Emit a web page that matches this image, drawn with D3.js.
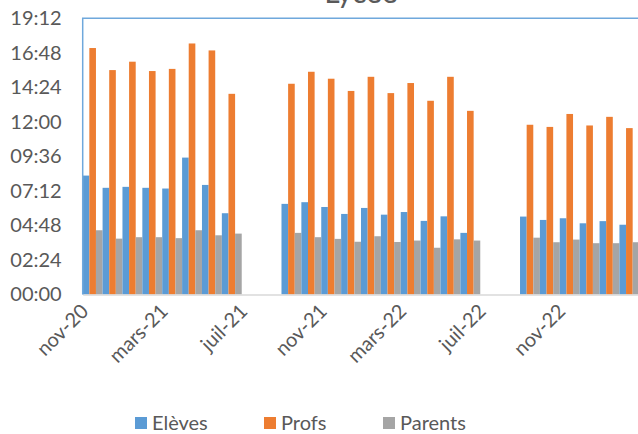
<!DOCTYPE html>
<html>
<head>
<meta charset="utf-8">
<script src="https://cdn.jsdelivr.net/npm/d3@7"></script>
<style>
  html, body { margin: 0; padding: 0; background: #ffffff; }
  svg { display: block; font-family: Lato, "Open Sans", sans-serif; }
</style>
</head>
<body>
<svg id="chart" width="638" height="434"></svg>
<script>
// ---- data ----
const months = ["nov-20","déc-20","janv-21","févr-21","mars-21","avr-21","mai-21","juin-21",
  "juil-21","août-21","sept-21","oct-21","nov-21","déc-21","janv-22","févr-22","mars-22","avr-22",
  "mai-22","juin-22","juil-22","août-22","sept-22","oct-22","nov-22","déc-22","janv-23","févr-23"];
const seriesNames = ["Elèves", "Profs", "Parents"];
const eleves = ["08:16","07:25","07:29","07:25","07:22","09:31","07:37","05:39",
  null,null,"06:18","06:25","06:05","05:36","06:01","05:33","05:44","05:07","05:26","04:17",
  null,null,"05:25","05:11","05:18","04:57","05:06","04:51"];
const profs = ["17:08","15:36","16:11","15:32","15:41","17:27","16:58","13:57",
  null,null,"14:39","15:29","15:00","14:09","15:08","14:00","14:42","13:28","15:08","12:46",
  null,null,"11:48","11:39","12:33","11:45","12:21","11:34"];
const parents = ["04:28","03:53","03:59","03:59","03:55","04:28","04:07","04:14",
  null,null,"04:17","03:59","03:52","03:40","04:03","03:39","03:45","03:15","03:50","03:45",
  null,null,"03:57","03:38","03:49","03:34","03:34","03:38"];
const yTicks = ["00:00","02:24","04:48","07:12","09:36","12:00","14:24","16:48","19:12"];
const xTickLabels = ["nov-20","mars-21","juil-21","nov-21","mars-22","juil-22","nov-22"];
const titleText = "Lycée";

const colors = {"Elèves": "#5B9BD5", "Profs": "#ED7D31", "Parents": "#A5A5A5"};

// ---- helpers ----
const toMin = s => { const [h, m] = s.split(":").map(Number); return h * 60 + m; };
const fmt = v => String(Math.floor(v / 60)).padStart(2, "0") + ":" + String(v % 60).padStart(2, "0");

const seriesData = {"Elèves": eleves, "Profs": profs, "Parents": parents};
const rows = months.map((m, i) => ({
  month: m,
  values: seriesNames.map(s => ({ key: s, v: seriesData[s][i] == null ? null : toMin(seriesData[s][i]) }))
}));

const svg = d3.select("#chart");
const pLeft = 82.7, pRight = 639.3, pTop = 18.3, pBottom = 294.5;

const x = d3.scaleBand().domain(months).range([pLeft, pRight]).paddingInner(0).paddingOuter(0);
const xs = d3.scaleBand().domain(seriesNames).range([0, x.bandwidth()]).padding(0);
const yMax = toMin(yTicks[yTicks.length - 1]);
const y = d3.scaleLinear().domain([0, yMax]).range([pBottom, pTop]);

// title (mostly cropped above, as in the reference)
svg.append("text").attr("x", (pLeft + pRight) / 2).attr("y", 3)
  .attr("text-anchor", "middle").attr("font-size", 30).attr("fill", "#595959").text(titleText);

// bars
const g = svg.append("g");
g.selectAll("g.month").data(rows).join("g")
  .attr("transform", d => `translate(${x(d.month)},0)`)
  .selectAll("rect").data(d => d.values.filter(v => v.v != null)).join("rect")
  .attr("x", d => xs(d.key))
  .attr("width", xs.bandwidth())
  .attr("y", d => y(d.v))
  .attr("height", d => y(0) - y(d.v))
  .attr("fill", d => colors[d.key]);

// x axis
const xAxis = d3.axisBottom(x).tickValues(xTickLabels).tickSize(0).tickFormat(d => d);
const xg = svg.append("g").attr("transform", `translate(0,${pBottom})`).call(xAxis);
xg.select(".domain").attr("stroke", "#D9D9D9").attr("stroke-width", 1.5);
xg.selectAll("text")
  .attr("x", 0).attr("y", 0).attr("dy", "0.35em")
  .attr("text-anchor", "end")
  .attr("transform", "translate(-8,13) rotate(-45)")
  .attr("font-size", 20).attr("fill", "#595959").attr("font-family", "Lato, sans-serif");

// y axis
const yAxis = d3.axisLeft(y).tickValues(yTicks.map(toMin)).tickSize(0).tickPadding(21).tickFormat(fmt);
const yg = svg.append("g").attr("transform", `translate(${pLeft},0)`).call(yAxis);
yg.select(".domain").remove();
yg.selectAll("text").attr("font-size", 20).attr("fill", "#595959").attr("font-family", "Lato, sans-serif");

// plot area border (blue, top + left)
svg.append("path")
  .attr("d", `M${pLeft},${pBottom} L${pLeft},${pTop} L${pRight},${pTop}`)
  .attr("fill", "none").attr("stroke", "#6FA8DC").attr("stroke-width", 1.5);

// legend
const legendX = [135, 264, 383];
const lg = svg.append("g").selectAll("g").data(seriesNames).join("g")
  .attr("transform", (d, i) => `translate(${legendX[i]},423)`);
lg.append("rect").attr("x", 0).attr("y", -6).attr("width", 12).attr("height", 12).attr("fill", d => colors[d]);
lg.append("text").attr("x", 17).attr("y", 0).attr("dy", "0.35em")
  .attr("font-size", 20).attr("fill", "#595959").text(d => d);
</script>
</body>
</html>
